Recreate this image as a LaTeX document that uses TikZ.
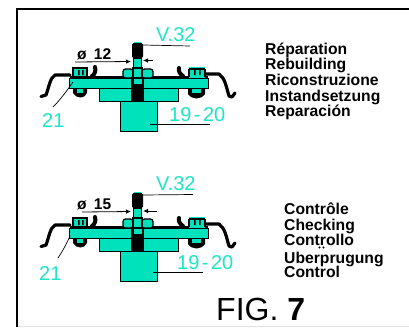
\documentclass[tikz,border=0pt]{standalone}
\usepackage{fontspec}
\usetikzlibrary{arrows.meta}
\setmainfont{Liberation Sans}
\definecolor{teal1}{HTML}{00E2BC}
\definecolor{lab}{HTML}{1CE6C6}
\tikzset{
 x=1pt,y=-1pt,
 part/.style={fill=teal1,draw=black,line width=0.8pt},
 ink/.style={draw=black,line width=3.2pt,line cap=round,line join=round},
 leader/.style={draw=black,line width=0.7pt},
 dimline/.style={draw=black,line width=0.8pt},
 dimtip/.style={-{Latex[length=5pt,width=4.5pt]}},
 lbl/.style={anchor=base west,inner sep=0pt,text=lab,font=\fontsize{20}{20}\selectfont},
 dimlbl/.style={anchor=base west,inner sep=0pt,font=\fontsize{15.5}{15.5}\selectfont\bfseries},
 word/.style={anchor=base west,inner sep=0pt,font=\fontsize{15.7}{15.7}\selectfont\bfseries},
 assy/.pic={
  % spring clips
  \draw[ink] (41,96.5) -- (46,95) .. controls (49,87) and (50,78) .. (55,75) -- (70,75);
  \draw[ink] (235,93) -- (232,97) -- (229,96) .. controls (226,86) and (225,78) .. (219,74) -- (205,74);
  \draw[black,line width=1.8pt] (70,77) -- (131,77) (143,77) -- (208,77);
  % hooks
  \draw[black,line width=4pt,line cap=round] (95,67) .. controls (96,71) and (95,74) .. (92,76);
  \draw[black,line width=4pt,line cap=round] (179,68) .. controls (178,71) and (180,74) .. (183,76);
  % screw heads and lower nuts
  \fill[black] (73,88) -- (73,93) .. controls (76,99) and (85,99) .. (87,93) -- (87,88) -- cycle;
  \fill[black] (188,88) -- (188,94) .. controls (192,100) and (201,100) .. (205,94) -- (205,88) -- cycle;
  \fill[teal1] (77,89) rectangle (83,93);
  \fill[teal1] (192,89) rectangle (201,93);
  \fill[teal1] (73,68) rectangle (87,77);
  \draw[black,line width=1.2pt] (73,68) rectangle (87,77);
  \fill[black] (78,70) rectangle (79.5,75) (82,70) rectangle (83.5,75);
  \fill[teal1] (189,67) rectangle (205,78);
  \draw[black,line width=1.2pt] (189,69) -- (205,69) (189,69) -- (189,77) (205,69) -- (205,77);
  \fill[black] (194,70) rectangle (195.5,75) (199,70) rectangle (200.5,75);
  % bodies
  \draw[part] (120,101) rectangle (157,131.5);
  \draw[part] (99,88) rectangle (178,101);
  \draw[part] (69,78) rectangle (208,88);
  % shaft
  \fill[black] (131,78) rectangle (143.5,101);
  \fill[teal1] (134,78) rectangle (142,84);
  % nut
  \draw[part,line width=1.2pt,rounded corners=2.5pt] (123,69) rectangle (133,78);
  \draw[part,line width=1.2pt,rounded corners=2.5pt] (142,69) rectangle (153,78);
  \draw[part,line width=1.2pt] (133,68) rectangle (142,78);
  % threaded end
  \fill[black,rounded corners=1.5pt] (132,43) rectangle (143,58);
  \fill[black] (133,58) rectangle (142,68);
  \fill[teal1] (134,59) rectangle (141,67);
  \fill[teal1] (134,41.5) rectangle (141,43);
 }
}
\begin{document}
\begin{tikzpicture}
\useasboundingbox (0,0) rectangle (409,327);
\fill[white] (0,0) rectangle (409,327);
\coordinate (fa) at (17,327);
\coordinate (fb) at (17,9.2);
\coordinate (fc) at (409,9.2);
\coordinate (ga) at (18,326.5);
\coordinate (gb) at (409,326.5);
\draw[black,line width=2.5pt] (fa) -- (fb) -- (fc);
\draw[black!12,line width=1pt] (ga) -- (gb);

% ---- upper assembly
\pic {assy};
\node[lbl] (v1) at (156,41) {V.32};
\coordinate (v1a) at (143,45);
\coordinate (v1b) at (190,46);
\draw[leader] (v1a) -- (v1b);
\node[dimlbl] (d1) at (77,59) {ø\hspace{3pt} 12};
\coordinate (d1a) at (75,62);
\coordinate (d1b) at (131,61.5);
\coordinate (d1c) at (153,60.5);
\coordinate (d1d) at (143,60.5);
\draw[dimline,dimtip] (d1a) -- (d1b);
\draw[dimline,dimtip] (d1c) -- (d1d);
\node[lbl] (n1) at (42,127) {21};
\coordinate (n1a) at (73,82);
\coordinate (n1b) at (53,107);
\draw[leader] (n1a) .. controls (66,92) and (60,100) .. (n1b);
\node[lbl] (p1) at (169,121) {19\kern2.5pt-\kern2.5pt20};
\coordinate (p1a) at (150,124);
\coordinate (p1b) at (210,124);
\draw[leader] (p1a) -- (p1b);
\node[word] (w1) at (265,54) {Réparation};
\node[word] (w2) at (265,69) {Rebuilding};
\node[word] (w3) at (265,85) {Riconstruzione};
\node[word] (w4) at (265,101) {Instandsetzung};
\node[word] (w5) at (265,116) {Reparación};

% ---- lower assembly
\pic at (0,150) {assy};
\node[lbl] (v2) at (156,190) {V.32};
\coordinate (v2a) at (143,195);
\coordinate (v2b) at (193,194.5);
\draw[leader] (v2a) -- (v2b);
\node[dimlbl] (d2) at (77,209) {ø\hspace{3pt} 15};
\coordinate (d2a) at (82,212);
\coordinate (d2b) at (131,211.5);
\coordinate (d2c) at (157,211);
\coordinate (d2d) at (143,211);
\draw[dimline,dimtip] (d2a) -- (d2b);
\draw[dimline,dimtip] (d2c) -- (d2d);
\node[lbl] (n2) at (39,280) {21};
\coordinate (n2a) at (70,236);
\coordinate (n2b) at (58,258);
\draw[leader] (n2a) .. controls (66,245) and (62,252) .. (n2b);
\node[lbl] (p2) at (177,269) {19\kern2.5pt-\kern2.5pt20};
\coordinate (p2a) at (153,272);
\coordinate (p2b) at (203,272);
\draw[leader] (p2a) -- (p2b);
\node[word] (x1) at (284,214) {Contrôle};
\node[word] (x2) at (284,230) {Checking};
\node[word] (x3) at (284,245) {Controllo};
\node[word] (x4) at (284,263) {Uberprugung};
\node[word] (x5) at (284,277) {Control};
\fill[black] (319.5,247.5) circle (1.1pt) (323.5,247.5) circle (1.1pt);

\node[anchor=base west,inner sep=0pt,font=\fontsize{32}{32}\selectfont] (fig) at (216,320) {FIG. \textbf{7}};
\end{tikzpicture}
\end{document}
